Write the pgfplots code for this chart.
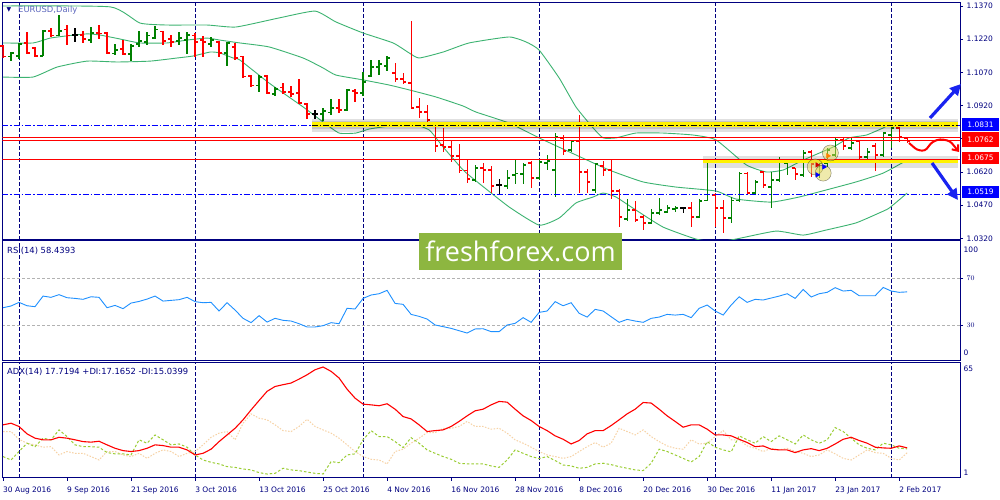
\documentclass[border=0pt]{standalone}
\usepackage{fontspec}
\setmainfont{DejaVu Sans}
\newfontfamily\wmfont{Open Sans}
\usepackage{pgfplots}
\usepackage{pgfplotstable}
\pgfplotsset{compat=1.18}
\usetikzlibrary{arrows.meta}

\definecolor{mtnavy}{RGB}{0,0,128}
\definecolor{barup}{RGB}{0,128,0}
\definecolor{bardn}{RGB}{255,0,0}
\definecolor{bband}{RGB}{60,179,113}
\definecolor{rsiblue}{RGB}{30,144,255}
\definecolor{pdi}{RGB}{154,205,50}
\definecolor{mdi}{RGB}{247,210,165}
\definecolor{lvlblue}{RGB}{0,0,255}
\definecolor{wmgreen}{RGB}{141,182,64}
\definecolor{titlecol}{RGB}{95,105,190}
\definecolor{mkyellow}{RGB}{225,215,90}
\definecolor{arrblue}{RGB}{25,35,240}

\newcommand\tickfont{\fontsize{7.5}{9}\selectfont}
\newcommand\lblfont{\fontsize{8.4}{10}\selectfont}

% open / close ticks of an OHLC bar
\pgfdeclareplotmark{otick}{\pgfpathmoveto{\pgfqpoint{-3pt}{0pt}}\pgfpathlineto{\pgfqpoint{0pt}{0pt}}\pgfusepathqstroke}
\pgfdeclareplotmark{ctick}{\pgfpathmoveto{\pgfqpoint{0pt}{0pt}}\pgfpathlineto{\pgfqpoint{3pt}{0pt}}\pgfusepathqstroke}

% EURUSD daily bars: index, open, high, low, close
\pgfplotstableread{
x o h l c
1 1.1140 1.1162 1.1122 1.1158
2 1.1144 1.1203 1.1131 1.1198
5 1.1144 1.1262 1.1142 1.1257
7 1.1235 1.1329 1.1233 1.1257
11 1.1216 1.1275 1.1203 1.1248
14 1.1155 1.1198 1.1150 1.1171
16 1.1153 1.1198 1.1122 1.1189
17 1.1198 1.1257 1.1185 1.1212
18 1.1207 1.1253 1.1194 1.1235
19 1.1225 1.1280 1.1221 1.1262
22 1.1212 1.1253 1.1194 1.1225
23 1.1216 1.1253 1.1153 1.1239
26 1.1198 1.1230 1.1185 1.1216
28 1.1158 1.1207 1.1099 1.1203
32 1.1009 1.1058 1.0981 1.1049
34 1.0972 1.1004 1.0963 1.0995
40 1.0882 1.0909 1.0850 1.0896
41 1.0887 1.0950 1.0878 1.0909
43 1.0900 1.0995 1.0896 1.0990
45 1.0977 1.1072 1.0963 1.1027
46 1.1054 1.1126 1.1049 1.1094
47 1.1094 1.1126 1.1058 1.1108
48 1.1099 1.1144 1.1076 1.1135
59 1.0584 1.0652 1.0575 1.0638
63 1.0557 1.0629 1.0543 1.0593
64 1.0606 1.0674 1.0566 1.0615
65 1.0611 1.0661 1.0566 1.0652
67 1.0593 1.0674 1.0584 1.0665
68 1.0661 1.0697 1.0629 1.0670
69 1.0629 1.0796 1.0507 1.0778
71 1.0719 1.0765 1.0710 1.0760
74 1.0539 1.0661 1.0525 1.0656
78 1.0408 1.0498 1.0399 1.0448
81 1.0390 1.0453 1.0385 1.0435
82 1.0435 1.0503 1.0426 1.0448
83 1.0439 1.0471 1.0435 1.0457
84 1.0453 1.0466 1.0439 1.0457
87 1.0417 1.0498 1.0412 1.0489
88 1.0493 1.0661 1.0489 1.0520
91 1.0412 1.0507 1.0390 1.0493
92 1.0493 1.0620 1.0484 1.0615
94 1.0525 1.0584 1.0516 1.0575
96 1.0552 1.0620 1.0457 1.0584
97 1.0584 1.0688 1.0575 1.0674
98 1.0661 1.0679 1.0606 1.0665
100 1.0606 1.0719 1.0597 1.0706
102 1.0606 1.0674 1.0593 1.0661
103 1.0661 1.0728 1.0643 1.0719
104 1.0697 1.0774 1.0688 1.0765
106 1.0728 1.0774 1.0719 1.0751
108 1.0688 1.0728 1.0661 1.0710
110 1.0697 1.0801 1.0688 1.0796
111 1.0787 1.0832 1.0728 1.0819
}\barsup

\pgfplotstableread{
x o h l c
0 1.1189 1.1194 1.1135 1.1140
3 1.1203 1.1253 1.1153 1.1158
4 1.1180 1.1185 1.1140 1.1144
6 1.1257 1.1271 1.1230 1.1235
8 1.1262 1.1284 1.1194 1.1235
10 1.1239 1.1257 1.1203 1.1221
12 1.1248 1.1284 1.1221 1.1244
13 1.1248 1.1253 1.1153 1.1158
15 1.1176 1.1216 1.1150 1.1153
20 1.1253 1.1257 1.1194 1.1212
21 1.1221 1.1239 1.1185 1.1207
24 1.1235 1.1248 1.1140 1.1207
25 1.1216 1.1235 1.1140 1.1207
27 1.1207 1.1212 1.1140 1.1158
29 1.1185 1.1203 1.1126 1.1135
30 1.1140 1.1142 1.1047 1.1051
31 1.1054 1.1056 1.1004 1.1009
33 1.1054 1.1058 1.0972 1.0977
35 1.1000 1.1022 1.0972 1.0981
36 1.0981 1.1009 1.0959 1.0972
37 1.0977 1.1040 1.0927 1.0932
38 1.0927 1.0932 1.0859 1.0882
42 1.0909 1.0950 1.0887 1.0900
44 1.0986 1.0995 1.0936 1.0977
49 1.1067 1.1113 1.1027 1.1040
50 1.1040 1.1067 1.1018 1.1027
51 1.1022 1.1302 1.0905 1.0909
52 1.0914 1.0954 1.0864 1.0891
53 1.0891 1.0923 1.0832 1.0855
54 1.0832 1.0841 1.0710 1.0737
55 1.0742 1.0819 1.0710 1.0733
56 1.0733 1.0765 1.0665 1.0692
57 1.0692 1.0747 1.0615 1.0625
58 1.0625 1.0674 1.0570 1.0588
60 1.0638 1.0661 1.0570 1.0629
61 1.0629 1.0647 1.0525 1.0557
66 1.0661 1.0670 1.0548 1.0593
70 1.0774 1.0787 1.0697 1.0715
72 1.0756 1.0878 1.0525 1.0620
73 1.0620 1.0634 1.0525 1.0575
75 1.0647 1.0670 1.0602 1.0629
76 1.0629 1.0674 1.0498 1.0534
77 1.0534 1.0543 1.0371 1.0417
79 1.0448 1.0489 1.0394 1.0403
80 1.0417 1.0426 1.0358 1.0390
86 1.0457 1.0484 1.0371 1.0417
89 1.0516 1.0525 1.0371 1.0457
90 1.0457 1.0493 1.0344 1.0412
93 1.0615 1.0620 1.0522 1.0525
95 1.0620 1.0625 1.0548 1.0561
99 1.0638 1.0640 1.0584 1.0611
101 1.0710 1.0719 1.0597 1.0656
105 1.0765 1.0778 1.0719 1.0737
107 1.0756 1.0765 1.0661 1.0688
109 1.0737 1.0751 1.0625 1.0697
112 1.0819 1.0832 1.0756 1.0778
113 1.0774 1.0778 1.0751 1.0760
}\barsdn

\pgfplotstableread{
x o h l c
9 1.1239 1.1271 1.1207 1.1239
39 1.0882 1.0900 1.0859 1.0882
62 1.0561 1.0588 1.0521 1.0561
85 1.0457 1.0462 1.0435 1.0457
}\barsdoji

% Bollinger bands (20,2), sampled
\pgfplotstableread{
x up
0 1.1370
13.4 1.1366
17.1 1.1293
20.5 1.1284
25.5 1.1284
29.1 1.1275
34.5 1.1316
39 1.1347
41.6 1.1298
45 1.1248
48.75 1.1203
50.75 1.1158
52 1.1135
55 1.1162
58.25 1.1203
63.25 1.1230
65.4 1.1207
67 1.1171
69.5 1.1045
71.6 1.0914
73.75 1.0819
75 1.0774
76.6 1.0774
79.1 1.0796
82.5 1.0796
86.25 1.0787
89.1 1.0765
92.9 1.0652
95.4 1.0620
97.5 1.0629
100 1.0674
103.75 1.0733
105.75 1.0774
107.9 1.0787
110 1.0819
110.75 1.0832
113 1.0828
}\bbup

\pgfplotstableread{
x mid
0 1.1203
3.75 1.1203
5.9 1.1225
8 1.1235
10.5 1.1244
12.1 1.1239
14.6 1.1221
17.1 1.1203
20.5 1.1203
23 1.1216
25.5 1.1225
27.1 1.1216
29.6 1.1203
33.25 1.1185
37.5 1.1135
40 1.1090
41.6 1.1058
45 1.1036
48.25 1.1013
50.75 1.0991
54.1 1.0959
57.5 1.0918
59.1 1.0891
63.25 1.0841
67 1.0774
71.6 1.0697
75.75 1.0629
80 1.0575
84.1 1.0552
89.1 1.0534
91.6 1.0498
96 1.0484
99.5 1.0507
102.9 1.0539
106.6 1.0575
110 1.0615
113 1.0674
}\bbmid

\pgfplotstableread{
x lo
0 1.1049
3.75 1.1049
6.75 1.1094
10.5 1.1121
14.25 1.1117
18.4 1.1121
21.75 1.1135
23.75 1.1144
25.9 1.1162
27.1 1.1158
28.75 1.1135
29.6 1.1126
33.25 1.1022
37.5 1.0914
40 1.0846
42 1.0796
44.1 1.0796
45.75 1.0814
48.25 1.0828
50.75 1.0841
53.25 1.0810
55 1.0733
57.5 1.0629
59.1 1.0580
63.25 1.0462
67 1.0380
69.5 1.0412
71.6 1.0480
73.75 1.0507
75 1.0525
76.6 1.0507
79.1 1.0448
82.5 1.0371
86.6 1.0317
89.1 1.0304
91.6 1.0317
96.6 1.0353
100 1.0335
102.9 1.0358
106.6 1.0390
109.5 1.0435
110.75 1.0457
113 1.0525
}\bblo

% RSI(14)
\pgfplotstableread{
x rsi
0 44.8
1 46.3
2 49.4
3 46.5
4 45.7
5 54.8
6 53.7
7 56.0
8 53.4
9 52.8
10 52.0
11 54.2
12 53.7
13 44.8
14 46.8
15 44.0
16 48.8
17 50.2
18 52.2
19 54.8
20 50.5
21 51.1
22 51.7
23 53.7
24 50.0
25 49.1
26 49.4
27 42.0
28 49.1
29 42.8
30 35.7
31 32.0
32 38.0
33 32.5
34 35.7
35 34.0
36 33.4
37 31.1
38 28.3
39 28.3
40 29.4
41 32.0
42 31.1
43 44.3
44 43.7
45 52.8
46 55.7
47 56.8
48 59.7
49 48.5
50 47.7
51 39.1
52 37.4
53 35.1
54 30.0
55 28.6
56 27.1
57 25.1
58 23.1
59 26.6
60 26.8
61 24.3
62 24.3
63 30.0
64 31.4
65 36.3
66 32.3
67 40.8
68 42.0
69 50.0
70 46.5
71 49.1
72 40.0
73 36.8
74 43.4
75 42.0
76 37.1
77 32.3
78 34.8
79 33.4
80 32.3
81 35.7
82 36.8
83 39.1
84 38.5
85 39.1
86 36.3
87 44.3
88 47.1
89 42.0
90 38.5
91 47.1
92 54.2
93 49.4
94 52.0
95 51.4
96 53.1
97 54.8
98 56.8
99 52.8
100 60.5
101 54.0
102 56.8
103 58.0
104 62.0
105 59.1
106 59.7
107 55.1
108 55.1
109 55.1
110 62.2
111 59.1
112 58.0
113 58.4
}\rsidata

% ADX(14), +DI, -DI
\pgfplotstableread{
x adx pdi mdi
0 30.5 12.9 26.8
1 31.4 11.0 26.8
2 29.6 15.7 22.5
3 25.5 20.3 20.3
4 23.1 18.4 19.4
5 22.2 23.1 18.1
6 22.2 22.2 18.4
7 23.6 27.7 13.8
8 23.1 24.0 15.7
9 22.2 19.4 14.7
10 21.2 18.4 14.7
11 20.9 18.4 12.9
12 21.4 18.1 11.0
13 19.4 15.1 15.7
14 17.5 14.4 15.7
15 16.2 14.4 13.8
16 15.7 13.8 12.9
17 16.2 22.2 14.7
18 17.5 20.3 11.9
19 19.4 24.9 14.7
20 19.0 22.2 16.6
21 18.1 19.4 15.7
22 18.1 19.9 12.9
23 16.6 18.1 14.7
24 13.8 13.8 15.7
25 14.7 11.0 19.4
26 17.0 9.7 23.6
27 21.2 8.8 25.9
28 24.9 7.3 26.8
29 28.6 6.9 22.2
30 33.3 6.0 31.4
31 38.8 5.5 36.6
32 44.0 4.0 34.2
33 49.1 3.2 33.3
34 51.8 3.6 30.5
35 52.8 6.4 27.3
36 53.7 5.5 26.8
37 55.9 5.1 29.6
38 58.3 4.3 33.6
39 61.1 3.6 29.6
40 62.6 3.2 27.7
41 60.2 10.1 25.9
42 56.5 9.5 23.1
43 50.3 13.8 19.4
44 45.3 14.4 15.7
45 42.0 22.2 12.9
46 41.6 27.3 11.4
47 41.1 24.0 11.0
48 42.2 24.0 8.8
49 39.2 21.2 15.7
50 35.1 17.9 17.0
51 33.8 23.4 20.3
52 30.5 20.3 23.1
53 26.8 16.6 26.2
54 27.3 14.7 26.2
55 27.7 12.9 28.6
56 29.6 11.4 28.6
57 32.4 9.2 29.6
58 35.5 8.8 32.4
59 38.3 8.8 29.6
60 39.2 8.8 29.6
61 41.6 7.7 28.1
62 43.5 6.9 28.6
63 43.1 11.0 25.9
64 39.2 16.6 22.2
65 35.5 14.7 20.3
66 32.9 12.9 18.1
67 29.6 11.8 15.7
68 27.3 12.9 13.8
69 24.4 10.7 12.9
70 22.5 8.2 11.9
71 19.9 7.7 12.9
72 21.8 6.4 15.7
73 25.5 6.9 18.4
74 27.3 8.8 20.7
75 27.3 9.2 18.1
76 30.1 8.4 20.3
77 33.3 7.3 28.6
78 36.6 6.4 26.8
79 39.2 5.5 24.9
80 42.9 5.1 27.7
81 42.6 9.2 24.0
82 39.2 17.0 21.2
83 35.5 15.7 18.8
84 32.4 13.8 17.5
85 29.2 11.9 17.0
86 30.5 9.9 22.2
87 30.5 12.9 19.9
88 28.1 21.2 20.3
89 24.9 18.1 24.0
90 24.9 16.6 27.3
91 24.4 15.5 22.2
92 22.5 24.4 22.2
93 20.7 22.2 18.8
94 18.4 20.3 17.5
95 18.8 24.0 15.7
96 17.0 21.2 17.5
97 16.6 24.4 16.6
98 16.6 22.2 17.5
99 15.1 19.9 15.7
100 16.6 24.9 14.7
101 17.3 22.2 12.9
102 16.2 20.3 13.8
103 17.5 22.2 16.6
104 19.9 29.0 14.4
105 22.5 26.8 11.9
106 23.6 23.1 11.0
107 21.8 19.4 13.8
108 20.3 17.5 16.6
109 18.1 16.6 15.1
110 17.7 20.3 14.7
111 17.5 19.4 11.9
112 18.8 17.5 11.0
113 17.7 17.2 15.0
}\adxdata

\pgfplotsset{
  mt/.style={
    scale only axis, anchor=south west,
    width=957.7pt,
    xmin=-0.09, xmax=119.6,
    enlargelimits=false,
    axis line style={mtnavy, line width=1pt},
    tick style={mtnavy, line width=0.8pt},
    tick align=outside, major tick length=3pt,
    ytick pos=right, xtick pos=bottom,
    xtick=\empty,
    ticklabel style={font=\tickfont, text=mtnavy},
    yticklabel style={anchor=west, inner sep=0pt, xshift=3.5pt},
    extra x ticks={2,24,45,67,89,111},
    extra x tick labels={},
    extra x tick style={grid=major, major tick length=0pt,
      major grid style={mtnavy, line width=0.9pt, dash pattern=on 4pt off 2pt}},
    clip mode=individual,
  },
  ohlc/.style={only marks, line width=1.2pt, mark options={line width=1.2pt, solid},
    error bars/y dir=both, error bars/y explicit, error bars/error mark=none,
    error bars/error bar style={line width=1.2pt}},
}

\begin{document}
\begin{tikzpicture}
\fill[white] (0pt,0pt) rectangle (1000pt,500pt);
\path[use as bounding box] (0pt,0pt) rectangle (1000pt,500pt);

% ---------- price panel ----------
\begin{axis}[mt, at={(2.3pt,260pt)}, height=237.5pt,
  ymin=1.03128, ymax=1.13858,
  ytick={1.032,1.047,1.062,1.077,1.092,1.107,1.122,1.137},
  scaled y ticks=false,
  yticklabel style={/pgf/number format/.cd, fixed, fixed zerofill, precision=4, assume math mode=true},
]
\addplot[bband, line width=0.9pt, smooth, tension=0.3] table[x=x, y=up] {\bbup};
\addplot[bband, line width=0.9pt, smooth, tension=0.3] table[x=x, y=mid] {\bbmid};
\addplot[bband, line width=0.9pt, smooth, tension=0.3] table[x=x, y=lo] {\bblo};

\addplot[barup, mark=ctick, ohlc] table[x=x, y=c, y error plus expr=\thisrow{h}-\thisrow{c}, y error minus expr=\thisrow{c}-\thisrow{l}] {\barsup};
\addplot[barup, only marks, mark=otick, mark options={line width=1.2pt}] table[x=x, y=o] {\barsup};
\addplot[bardn, mark=ctick, ohlc] table[x=x, y=c, y error plus expr=\thisrow{h}-\thisrow{c}, y error minus expr=\thisrow{c}-\thisrow{l}] {\barsdn};
\addplot[bardn, only marks, mark=otick, mark options={line width=1.2pt}] table[x=x, y=o] {\barsdn};
\addplot[black, mark=ctick, ohlc] table[x=x, y=c, y error plus expr=\thisrow{h}-\thisrow{c}, y error minus expr=\thisrow{c}-\thisrow{l}] {\barsdoji};
\addplot[black, only marks, mark=otick, mark options={line width=1.2pt}] table[x=x, y=o] {\barsdoji};

% levels
\addplot[lvlblue, line width=1pt, dash pattern=on 6pt off 2pt on 1.5pt off 2pt] coordinates {(-0.1,1.0831) (119.6,1.0831)};
\addplot[lvlblue, line width=1pt, dash pattern=on 6pt off 2pt on 1.5pt off 2pt] coordinates {(-0.1,1.0519) (119.6,1.0519)};
\addplot[black, opacity=0.12, line width=13pt] coordinates {(38.6,1.0830) (119.4,1.0830)};
\addplot[black, opacity=0.12, line width=8pt] coordinates {(38.6,1.0831) (119.4,1.0831)};
\addplot[yellow, line width=5pt] coordinates {(38.6,1.0835) (119.4,1.0835)};
\addplot[black, line width=1pt, dash pattern=on 6pt off 2pt on 1.5pt off 2pt] coordinates {(38.6,1.0831) (119.4,1.0831)};
\addplot[black, opacity=0.12, line width=12pt] coordinates {(87.5,1.0667) (119.4,1.0667)};
\addplot[yellow, line width=4.5pt] coordinates {(87.5,1.0670) (119.4,1.0670)};
\addplot[bardn, line width=1pt] coordinates {(-0.1,1.0777) (119.6,1.0777)};
\addplot[bardn, line width=1pt] coordinates {(-0.1,1.0762) (119.6,1.0762)};
\addplot[bardn, line width=1pt] coordinates {(-0.1,1.0675) (119.6,1.0675)};

% trade markers
\addplot[only marks, mark=*, mark size=8pt, mark options={fill=mkyellow, draw=none, opacity=0.5}] coordinates {(101.5,1.0643) (103.4,1.0706) (102.5,1.0615)};
\addplot[only marks, mark=triangle*, mark size=2.6pt, mark options={rotate=-90, fill=red!80!black, draw=red!80!black}] coordinates {(101.75,1.0652)};
\addplot[only marks, mark=triangle*, mark size=2.6pt, mark options={rotate=-90, fill=blue, draw=blue}] coordinates {(102.6,1.0643) (101.75,1.0607)};
\addplot[only marks, mark=triangle*, mark size=2.6pt, mark options={rotate=-90, fill=orange, draw=orange}] coordinates {(103.1,1.0693)};
\end{axis}

% ---------- RSI panel ----------
\begin{axis}[mt, at={(2.3pt,139.3pt)}, height=119.7pt,
  ymin=-0.6, ymax=102,
  ytick={30,70},
  ymajorgrids, major grid style={black!30, line width=0.8pt, dash pattern=on 3pt off 2pt},
]
\addplot[rsiblue, line width=0.9pt] table[x=x, y=rsi] {\rsidata};
\node[anchor=west, inner sep=0pt, font=\tickfont, text=mtnavy] at (rel axis cs:1,1) [xshift=3.5pt, yshift=-9pt] {100};
\node[anchor=west, inner sep=0pt, font=\tickfont, text=mtnavy] at (rel axis cs:1,0) [xshift=3.5pt, yshift=7.5pt] {0};
\end{axis}

% ---------- ADX panel ----------
\begin{axis}[mt, at={(2.3pt,22pt)}, height=115.3pt,
  ymin=1, ymax=65, ytick=\empty,
  xtick={0,8,...,112},
  xticklabels={30 Aug 2016,9 Sep 2016,21 Sep 2016,3 Oct 2016,13 Oct 2016,25 Oct 2016,4 Nov 2016,16 Nov 2016,28 Nov 2016,8 Dec 2016,20 Dec 2016,30 Dec 2016,11 Jan 2017,23 Jan 2017,2 Feb 2017},
  xticklabel style={anchor=north west, inner sep=0pt, yshift=-5.5pt},
]
\addplot[mdi, line width=1pt, dash pattern=on 1.5pt off 1.5pt] table[x=x, y=mdi] {\adxdata};
\addplot[pdi, line width=1pt, dash pattern=on 2.5pt off 2pt] table[x=x, y=pdi] {\adxdata};
\addplot[bardn, line width=1.1pt] table[x=x, y=adx] {\adxdata};
\node[anchor=west, inner sep=0pt, font=\tickfont, text=mtnavy] at (rel axis cs:1,1) [xshift=3.5pt, yshift=-6.5pt] {65};
\node[anchor=west, inner sep=0pt, font=\tickfont, text=mtnavy] at (rel axis cs:1,0) [xshift=3.5pt, yshift=5.5pt] {1};
\end{axis}

% panel captions
\node[anchor=west, inner sep=0pt, text=mtnavy, font=\fontsize{6}{7}\selectfont] at (6.5pt,490pt) {▼};
\node[anchor=west, inner sep=0pt, text=titlecol, font=\lblfont] at (18pt,490pt) {EURUSD,Daily};
\node[anchor=west, inner sep=0pt, text=mtnavy, font=\lblfont] at (7pt,249pt) {RSI(14) 58.4393};
\node[anchor=west, inner sep=0pt, text=mtnavy, font=\lblfont] at (7pt,128.3pt) {ADX(14) 17.7194 +DI:17.1652 -DI:15.0399};

% price level boxes on the right scale
\fill[lvlblue] (962pt,369pt) rectangle (999pt,382pt);
\node[text=white, font=\tickfont, inner sep=0pt] at (980.5pt,375.5pt) {1.0831};
\fill[bardn] (962pt,353pt) rectangle (999pt,368pt);
\node[text=white, font=\tickfont, inner sep=0pt] at (980.5pt,360pt) {1.0762};
\fill[bardn] (962pt,336pt) rectangle (999pt,348pt);
\node[text=white, font=\tickfont, inner sep=0pt] at (980.5pt,342pt) {1.0675};
\fill[lvlblue] (962pt,302pt) rectangle (999pt,314pt);
\node[text=white, font=\tickfont, inner sep=0pt] at (980.5pt,308pt) {1.0519};

% scenario arrows
\draw[arrblue, line width=3.2pt, -{Triangle[length=11pt,width=11pt]}] (930pt,382pt) -- (961pt,416pt);
\draw[arrblue, line width=3.2pt, -{Triangle[length=11pt,width=11pt]}] (932pt,337pt) -- (958pt,300pt);
\draw[red, line width=2pt, rounded corners=3pt, -{Straight Barb[length=5pt,width=8pt]}] (909pt,357pt) -- (917pt,350pt) -- (925pt,349pt) -- (932pt,358pt) -- (940pt,361pt) -- (950pt,359pt) -- (955pt,353pt) -- (959pt,348pt);

% watermark
\fill[wmgreen] (419pt,230pt) rectangle (622pt,267pt);
\node[text=white, font=\wmfont\fontsize{27}{30}\selectfont] at (520.5pt,249pt) {freshforex.com};
\end{tikzpicture}
\end{document}
